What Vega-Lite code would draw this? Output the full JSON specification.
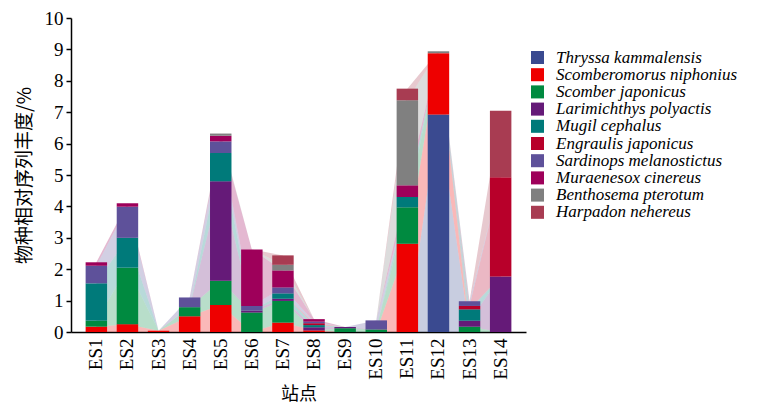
{
  "$schema": "https://vega.github.io/schema/vega-lite/v6.json",
  "width": 455,
  "height": 314,
  "autosize": "none",
  "padding": {"left": 71, "top": 18, "right": 245, "bottom": 74},
  "background": "white",
  "config": {
    "view": {"stroke": null},
    "font": "Liberation Serif"
  },
  "datasets": {
    "speciesList": [
      {"species": "Thryssa kammalensis", "rank": 1},
      {"species": "Scomberomorus niphonius", "rank": 2},
      {"species": "Scomber japonicus", "rank": 3},
      {"species": "Larimichthys polyactis", "rank": 4},
      {"species": "Mugil cephalus", "rank": 5},
      {"species": "Engraulis japonicus", "rank": 6},
      {"species": "Sardinops melanostictus", "rank": 7},
      {"species": "Muraenesox cinereus", "rank": 8},
      {"species": "Benthosema pterotum", "rank": 9},
      {"species": "Harpadon nehereus", "rank": 10}
    ]
  },
  "data": {
    "values": [
      {"station": "ES1", "species": "Scomberomorus niphonius", "value": 0.17},
      {"station": "ES1", "species": "Scomber japonicus", "value": 0.19},
      {"station": "ES1", "species": "Mugil cephalus", "value": 1.19},
      {"station": "ES1", "species": "Sardinops melanostictus", "value": 0.56},
      {"station": "ES1", "species": "Muraenesox cinereus", "value": 0.11},
      {"station": "ES2", "species": "Scomberomorus niphonius", "value": 0.25},
      {"station": "ES2", "species": "Scomber japonicus", "value": 1.8},
      {"station": "ES2", "species": "Mugil cephalus", "value": 0.95},
      {"station": "ES2", "species": "Sardinops melanostictus", "value": 0.99},
      {"station": "ES2", "species": "Muraenesox cinereus", "value": 0.11},
      {"station": "ES3", "species": "Scomberomorus niphonius", "value": 0.04},
      {"station": "ES4", "species": "Scomberomorus niphonius", "value": 0.5},
      {"station": "ES4", "species": "Scomber japonicus", "value": 0.29},
      {"station": "ES4", "species": "Sardinops melanostictus", "value": 0.31},
      {"station": "ES5", "species": "Scomberomorus niphonius", "value": 0.86},
      {"station": "ES5", "species": "Scomber japonicus", "value": 0.77},
      {"station": "ES5", "species": "Larimichthys polyactis", "value": 3.17},
      {"station": "ES5", "species": "Mugil cephalus", "value": 0.9},
      {"station": "ES5", "species": "Sardinops melanostictus", "value": 0.37},
      {"station": "ES5", "species": "Muraenesox cinereus", "value": 0.18},
      {"station": "ES5", "species": "Benthosema pterotum", "value": 0.07},
      {"station": "ES6", "species": "Scomber japonicus", "value": 0.62},
      {"station": "ES6", "species": "Larimichthys polyactis", "value": 0.06},
      {"station": "ES6", "species": "Sardinops melanostictus", "value": 0.15},
      {"station": "ES6", "species": "Muraenesox cinereus", "value": 1.8},
      {"station": "ES7", "species": "Scomberomorus niphonius", "value": 0.3},
      {"station": "ES7", "species": "Scomber japonicus", "value": 0.69},
      {"station": "ES7", "species": "Larimichthys polyactis", "value": 0.07},
      {"station": "ES7", "species": "Mugil cephalus", "value": 0.17},
      {"station": "ES7", "species": "Sardinops melanostictus", "value": 0.19},
      {"station": "ES7", "species": "Muraenesox cinereus", "value": 0.54},
      {"station": "ES7", "species": "Benthosema pterotum", "value": 0.18},
      {"station": "ES7", "species": "Harpadon nehereus", "value": 0.3},
      {"station": "ES8", "species": "Scomberomorus niphonius", "value": 0.05},
      {"station": "ES8", "species": "Larimichthys polyactis", "value": 0.1},
      {"station": "ES8", "species": "Mugil cephalus", "value": 0.07},
      {"station": "ES8", "species": "Engraulis japonicus", "value": 0.06},
      {"station": "ES8", "species": "Sardinops melanostictus", "value": 0.05},
      {"station": "ES8", "species": "Muraenesox cinereus", "value": 0.08},
      {"station": "ES9", "species": "Scomber japonicus", "value": 0.12},
      {"station": "ES9", "species": "Larimichthys polyactis", "value": 0.04},
      {"station": "ES10", "species": "Scomber japonicus", "value": 0.08},
      {"station": "ES10", "species": "Sardinops melanostictus", "value": 0.29},
      {"station": "ES11", "species": "Scomberomorus niphonius", "value": 2.81},
      {"station": "ES11", "species": "Scomber japonicus", "value": 1.16},
      {"station": "ES11", "species": "Mugil cephalus", "value": 0.33},
      {"station": "ES11", "species": "Muraenesox cinereus", "value": 0.37},
      {"station": "ES11", "species": "Benthosema pterotum", "value": 2.71},
      {"station": "ES11", "species": "Harpadon nehereus", "value": 0.37},
      {"station": "ES12", "species": "Thryssa kammalensis", "value": 6.93},
      {"station": "ES12", "species": "Scomberomorus niphonius", "value": 1.95},
      {"station": "ES12", "species": "Benthosema pterotum", "value": 0.06},
      {"station": "ES13", "species": "Scomber japonicus", "value": 0.17},
      {"station": "ES13", "species": "Larimichthys polyactis", "value": 0.19},
      {"station": "ES13", "species": "Mugil cephalus", "value": 0.36},
      {"station": "ES13", "species": "Engraulis japonicus", "value": 0.11},
      {"station": "ES13", "species": "Sardinops melanostictus", "value": 0.15},
      {"station": "ES14", "species": "Larimichthys polyactis", "value": 1.77},
      {"station": "ES14", "species": "Engraulis japonicus", "value": 3.16},
      {"station": "ES14", "species": "Harpadon nehereus", "value": 2.12}
    ]
  },
  "encoding": {
    "x": {
      "field": "station",
      "type": "nominal",
      "sort": ["ES1","ES2","ES3","ES4","ES5","ES6","ES7","ES8","ES9","ES10","ES11","ES12","ES13","ES14"],
      "scale": {"paddingInner": 0.31, "paddingOuter": 0.47},
      "axis": {
        "title": "站点",
        "titleFont": "Noto Sans CJK SC",
        "titleFontSize": 18,
        "titleFontWeight": "normal",
        "titleColor": "black",
        "titlePadding": 6,
        "labelAngle": -90,
        "labelFontSize": 19,
        "labelColor": "black",
        "labelPadding": 6,
        "ticks": false,
        "domainColor": "black",
        "domainWidth": 1.5
      }
    },
    "y": {
      "field": "value",
      "type": "quantitative",
      "stack": "zero",
      "scale": {"domain": [0, 10], "nice": false},
      "axis": {
        "title": "物种相对序列丰度/%",
        "titleFont": "Noto Sans CJK SC",
        "titleFontSize": 19,
        "titleFontWeight": "normal",
        "titleColor": "black",
        "titlePadding": 10,
        "values": [0,1,2,3,4,5,6,7,8,9,10],
        "labelFontSize": 19,
        "labelColor": "black",
        "labelPadding": 3,
        "tickColor": "black",
        "tickSize": 5,
        "tickWidth": 1.5,
        "domainColor": "black",
        "domainWidth": 1.5,
        "grid": false
      }
    },
    "color": {
      "field": "species",
      "type": "nominal",
      "scale": {
        "domain": ["Thryssa kammalensis","Scomberomorus niphonius","Scomber japonicus","Larimichthys polyactis","Mugil cephalus","Engraulis japonicus","Sardinops melanostictus","Muraenesox cinereus","Benthosema pterotum","Harpadon nehereus"],
        "range": ["#3a4a90","#ee0000","#008a40","#651a78","#007a7a","#b8002a","#5e519a","#9e005a","#808080","#a83c52"]
      },
      "legend": {
        "title": null,
        "orient": "none",
        "legendX": 458,
        "legendY": 31,
        "symbolType": "square",
        "symbolSize": 170,
        "symbolOpacity": 1,
        "symbolStrokeWidth": 0,
        "labelFont": "Liberation Serif",
        "labelFontStyle": "italic",
        "labelFontSize": 17,
        "labelColor": "black",
        "labelOffset": 10,
        "labelLimit": 300,
        "rowPadding": -0.8
      }
    },
    "order": {"field": "rank", "type": "quantitative", "sort": "ascending"}
  },
  "layer": [
    {
      "transform": [
        {"impute": "value", "key": "station", "groupby": ["species"], "value": 0},
        {"lookup": "species", "from": {"data": {"name": "speciesList"}, "key": "species", "fields": ["rank"]}}
      ],
      "mark": {"type": "area", "opacity": 0.28, "interpolate": "linear"}
    },
    {
      "transform": [
        {"lookup": "species", "from": {"data": {"name": "speciesList"}, "key": "species", "fields": ["rank"]}}
      ],
      "mark": {"type": "bar"}
    }
  ]
}
